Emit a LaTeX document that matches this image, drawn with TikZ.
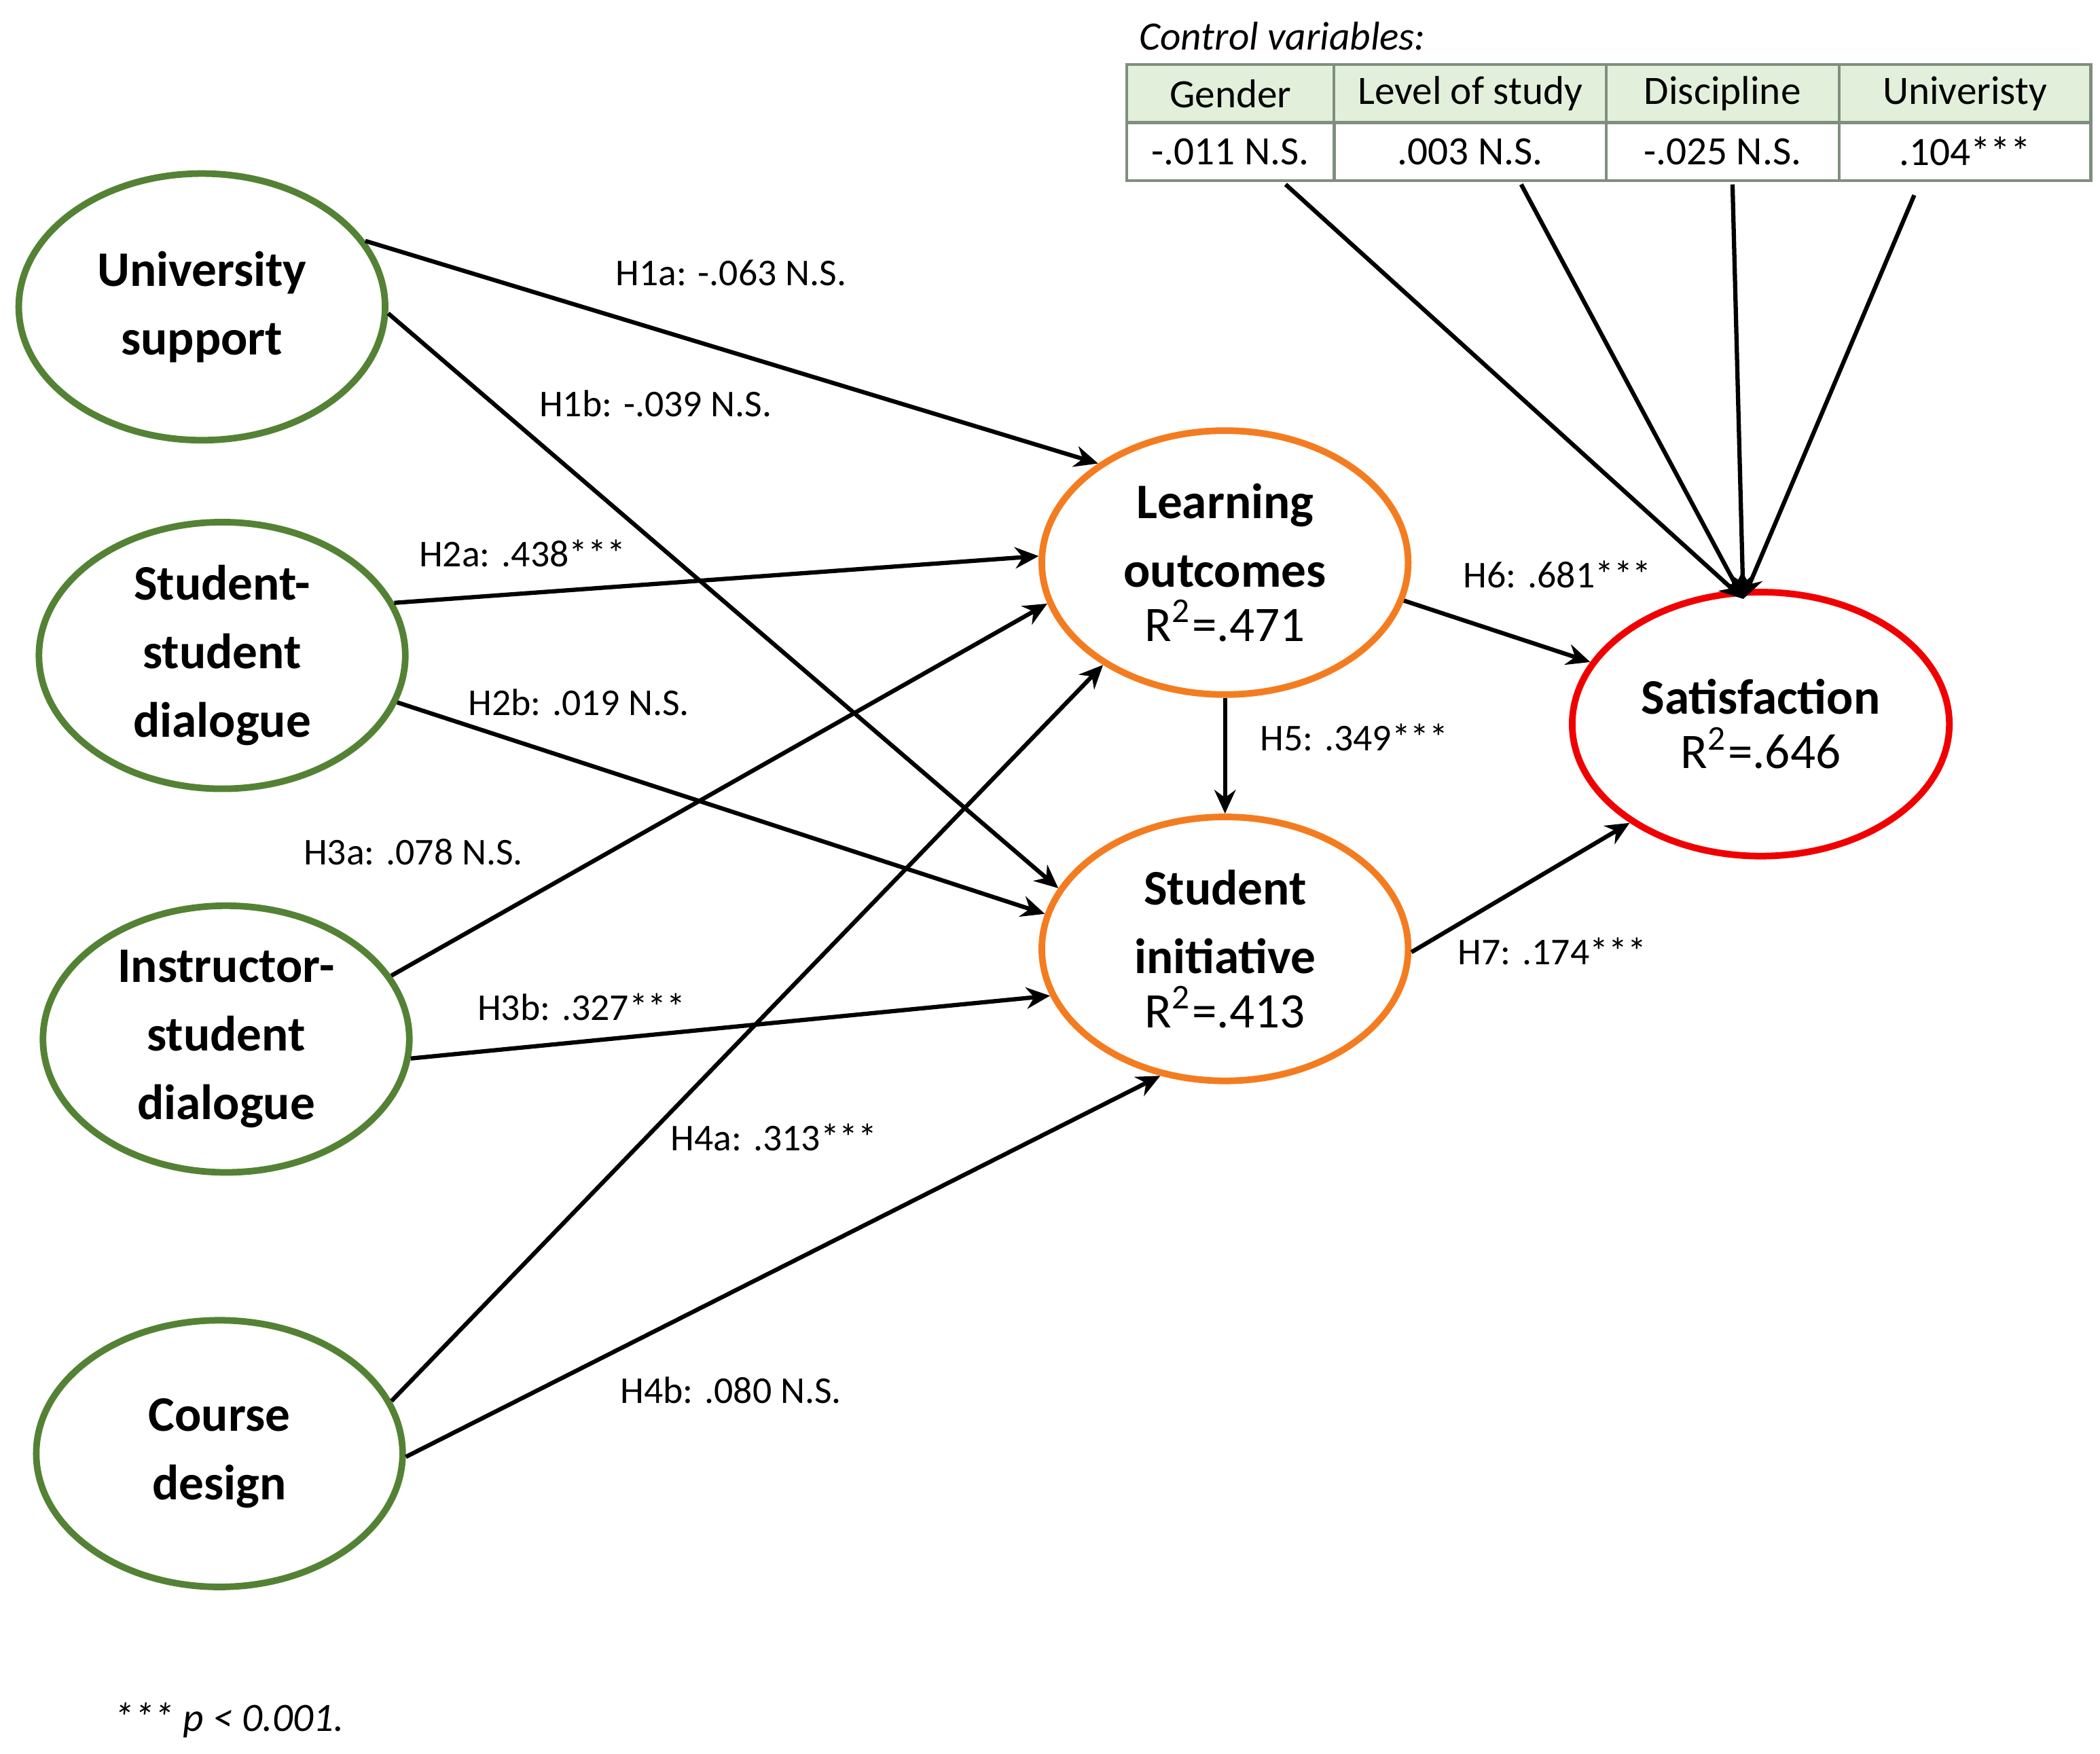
\documentclass[tikz,border=0pt]{standalone}
\usepackage{fontspec}
\setmainfont{Carlito}
\usetikzlibrary{shapes.geometric,arrows.meta}
\definecolor{cgreen}{HTML}{548235}
\definecolor{corange}{HTML}{F47C20}
\definecolor{cred}{HTML}{F00000}
\definecolor{thead}{HTML}{E2EFDA}
\definecolor{tline}{HTML}{7F8F7F}
\begin{document}
\begin{tikzpicture}[x=0.01cm,y=-0.01cm,
  ell/.style={ellipse,line width=1.4pt,inner sep=0pt,align=center,font=\fontsize{10.5}{14.5}\selectfont\bfseries},
  ex/.style={ell,draw=cgreen,minimum width=2.72cm,minimum height=1.98cm},
  en/.style={ell,draw=corange,minimum width=2.72cm,minimum height=1.96cm},
  arr/.style={line width=0.9pt,-{Stealth[length=5pt,width=4.5pt]}},
  lab/.style={font=\fontsize{8}{10}\selectfont},
  cell/.style={draw=tline,line width=0.6pt,minimum height=0.43cm,inner sep=0pt,anchor=north west,font=\fontsize{8.5}{10}\selectfont}]
\useasboundingbox (0,0) rectangle (1560,1303);
\node[ex] (us) at (150,228) {University\\support};
\node[ex] (ss) at (165,487) {Student-\\student\\dialogue};
\node[ex] (is) at (168,772) {Instructor-\\student\\dialogue};
\node[ex] (cd) at (163,1080) {Course\\design};
\node[en] (lo) at (910,418) {Learning\\outcomes\\[-3pt]{\mdseries R\textsuperscript{2}=.471}};
\node[en] (si) at (910,705) {Student\\initiative\\[-3pt]{\mdseries R\textsuperscript{2}=.413}};
\node[ell,draw=cred,minimum width=2.8cm,minimum height=1.96cm] (sat) at (1308,538) {Satisfaction\\[-3pt]{\mdseries R\textsuperscript{2}=.646}};
% table
\node[cell,fill=thead,minimum width=1.54cm] (g1) at (836,47) {Gender};
\node[cell,fill=thead,minimum width=2.02cm] (l1) at (990,47) {Level of study};
\node[cell,fill=thead,minimum width=1.73cm] (d1) at (1192,47) {Discipline};
\node[cell,fill=thead,minimum width=1.87cm] (u1) at (1365,47) {Univeristy};
\node[cell,minimum width=1.54cm] (g2) at (836,90) {-.011 N.S.};
\node[cell,minimum width=2.02cm] (l2) at (990,90) {.003 N.S.};
\node[cell,minimum width=1.73cm] (d2) at (1192,90) {-.025 N.S.};
\node[cell,minimum width=1.87cm] (u2) at (1365,90) {.104***};
\node[font=\fontsize{8.5}{10}\selectfont\itshape,anchor=west] (cv) at (834,27) {Control variables:};
\coordinate (c1) at (955,137);
\coordinate (c2) at (1130,137);
\coordinate (c3) at (1287,137);
\coordinate (c4) at (1422,145);
\coordinate (st) at (1295,445);
\foreach \c in {c1,c2,c3,c4} \draw[arr] (\c) -- (st);
% paths
\draw[arr] (us.22.6) -- (lo.142);
\draw[arr] (us.-2) -- (si.160);
\draw[arr] (ss.17.6) -- (lo.178.7);
\draw[arr] (ss.-15.6) -- (si.169);
\draw[arr] (is.21) -- (lo.193.6);
\draw[arr] (is.-6.8) -- (si.195.7);
\draw[arr] (cd.17.7) -- (lo.220.6);
\draw[arr] (cd.-1) -- (si.243.6);
\draw[arr] (lo.south) -- (si.north);
\draw[arr] (lo.-12) -- (sat.160);
\draw[arr] (si.-1) -- (sat.217);
% labels
\node[lab] (t1) at (543,203) {H1a: -.063 N.S.};
\node[lab] (t2) at (487,300) {H1b: -.039 N.S.};
\node[lab] (t3) at (388,411) {H2a: .438***};
\node[lab] (t4) at (430,522) {H2b: .019 N.S.};
\node[lab] (t5) at (307,633) {H3a: .078 N.S.};
\node[lab] (t6) at (432,748) {H3b: .327***};
\node[lab] (t7) at (575,845) {H4a: .313***};
\node[lab] (t8) at (543,1033) {H4b: .080 N.S.};
\node[lab] (t9) at (1006,548) {H5: .349***};
\node[lab] (t10) at (1157,427) {H6: .681***};
\node[lab] (t11) at (1153,707) {H7: .174***};
\node[font=\fontsize{8.5}{10}\selectfont\itshape] (fn) at (170,1278) {*** p < 0.001.};
\end{tikzpicture}
\end{document}
